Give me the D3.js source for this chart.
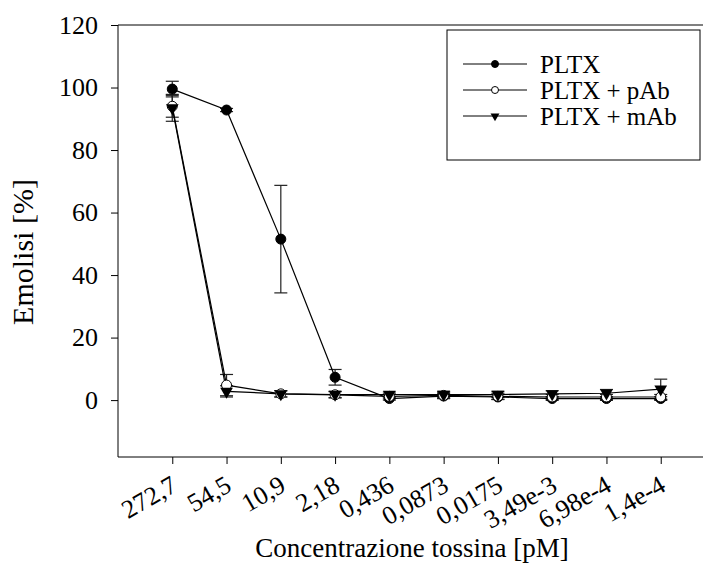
<!DOCTYPE html>
<html>
<head>
<meta charset="utf-8">
<script src="https://cdn.jsdelivr.net/npm/d3@7"></script>
<style>
  body { margin: 0; background: #fff; }
  svg text { font-family: "Liberation Serif", "Times New Roman", serif; fill: #000; }
</style>
</head>
<body>
<div id="chart"></div>
<script>
// concentrations (x categories) and hemolysis values
var categories = ["272,7", "54,5", "10,9", "2,18", "0,436", "0,0873", "0,0175", "3,49e-3", "6,98e-4", "1,4e-4"];
var pltx     = [99.5, 92.8, 51.5, 7.3, 0.5, 1.3, 1.0, 0.5, 0.5, 0.5];
var pltxErr  = [2.5, 0.5, 17.2, 2.5, 0.5, 0.8, 0.8, 0.6, 0.6, 0.6];
var pAb      = [94.0, 4.8, 2.0, 1.7, 1.2, 1.5, 1.2, 1.0, 1.0, 1.0];
var pAbErr   = [3.5, 3.4, 1.0, 1.0, 0.8, 1.0, 1.0, 0.8, 0.8, 0.8];
var mAb      = [93.5, 2.8, 2.0, 1.8, 1.8, 1.8, 1.8, 2.0, 2.2, 3.5];
var mAbErr   = [4.3, 1.8, 1.0, 1.0, 0.8, 1.0, 1.0, 1.0, 1.2, 3.2];
var yTicks   = [0, 20, 40, 60, 80, 100, 120];
var seriesNames = ["PLTX", "PLTX + pAb", "PLTX + mAb"];

var width = 703, height = 563;
const margin = {left: 118, right: 703, top: 25, bottom: 457};

var svg = d3.select("#chart").append("svg")
    .attr("width", width)
    .attr("height", height);

// one category step on each side of the data, axis runs off the right edge
var x = d3.scaleLinear()
    .domain([-1, 10])
    .range([margin.left, 715]);
var y = d3.scaleLinear()
    .domain([-18.2, 120])
    .range([margin.bottom, margin.top]);

// y axis
var yAxis = svg.append("g")
    .attr("transform", "translate(" + margin.left + ",0)")
    .call(d3.axisLeft(y).tickValues(yTicks).tickSize(7).tickPadding(13).tickFormat(d3.format("d")));
yAxis.select(".domain").attr("stroke", "#000").attr("d", "M0," + y(120) + "V" + margin.bottom);
yAxis.selectAll("text").style("font-size", "26px");

// top frame line
svg.append("line")
    .attr("x1", margin.left).attr("x2", margin.right)
    .attr("y1", margin.top).attr("y2", margin.top)
    .attr("stroke", "#000");

// x axis
var xAxis = svg.append("g")
    .attr("transform", "translate(0," + margin.bottom + ")")
    .call(d3.axisBottom(x).tickValues(d3.range(categories.length)).tickSize(7)
        .tickFormat(function(i) { return categories[i]; }));
xAxis.select(".domain").attr("d", "M" + margin.left + ",0H" + margin.right);
xAxis.selectAll("text")
    .style("font-size", "26px")
    .style("text-anchor", "end")
    .attr("y", 0)
    .attr("dy", 0)
    .attr("transform", "translate(6,33) rotate(-30)");

// axis titles
svg.append("text")
    .attr("text-anchor", "middle")
    .attr("transform", "translate(33,252) rotate(-90)")
    .style("font-size", "30px")
    .text("Emolisi [%]");

svg.append("text")
    .attr("text-anchor", "middle")
    .attr("x", 412)
    .attr("y", 557)
    .style("font-size", "27px")
    .text("Concentrazione tossina [pM]");

var series = [
  { name: seriesNames[0], values: pltx, err: pltxErr, marker: "filled" },
  { name: seriesNames[1], values: pAb, err: pAbErr, marker: "open" },
  { name: seriesNames[2], values: mAb, err: mAbErr, marker: "tri" }
];

function drawMarker(g, kind, r) {
  if (kind == "tri") {
    g.append("path").attr("d", d3.symbol().type(d3.symbolTriangle).size(r * r * 2.8)())
      .attr("transform", "rotate(180)").attr("fill", "#000");
  } else {
    g.append("circle").attr("r", r)
      .attr("fill", kind == "open" ? "#fff" : "#000")
      .attr("stroke", "#000").attr("stroke-width", 1);
  }
}

// error bars
series.forEach(function(s) {
  var eb = svg.append("g").attr("stroke", "#222").attr("stroke-width", 1.2);
  s.values.forEach(function(v, i) {
    var cx = x(i), lo = y(v - s.err[i]), hi = y(v + s.err[i]);
    eb.append("line").attr("x1", cx).attr("x2", cx).attr("y1", lo).attr("y2", hi);
    eb.append("line").attr("x1", cx - 6.5).attr("x2", cx + 6.5).attr("y1", lo).attr("y2", lo);
    eb.append("line").attr("x1", cx - 6.5).attr("x2", cx + 6.5).attr("y1", hi).attr("y2", hi);
  });
});

// lines
var line = d3.line()
    .x(function(d, i) { return x(i); })
    .y(function(d) { return y(d); });
series.forEach(function(s) {
  svg.append("path")
      .datum(s.values)
      .attr("d", line)
      .attr("fill", "none")
      .attr("stroke", "#000")
      .attr("stroke-width", 1.2);
});

// markers
series.forEach(function(s) {
  s.values.forEach(function(v, i) {
    var g = svg.append("g").attr("transform", "translate(" + x(i) + "," + y(v) + ")");
    drawMarker(g, s.marker, 5);
  });
});

// legend
var legend = svg.append("g");
legend.append("rect")
    .attr("x", 447).attr("y", 30)
    .attr("width", 253).attr("height", 130)
    .attr("fill", "#fff").attr("stroke", "#000");
series.forEach(function(s, k) {
  var ly = 64 + k * 26;
  legend.append("line")
      .attr("x1", 463).attr("x2", 527)
      .attr("y1", ly).attr("y2", ly)
      .attr("stroke", "#000");
  var g = legend.append("g").attr("transform", "translate(495," + ly + ")");
  drawMarker(g, s.marker, 3.5);
  legend.append("text")
      .attr("x", 540).attr("y", ly)
      .attr("dy", "0.35em")
      .style("font-size", "25px")
      .text(s.name);
});
</script>
</body>
</html>
